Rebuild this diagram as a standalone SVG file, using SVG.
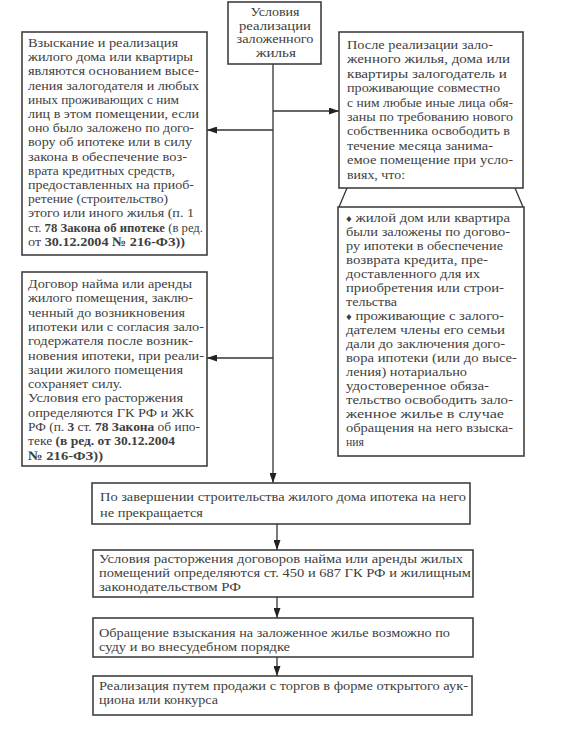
<svg xmlns="http://www.w3.org/2000/svg" width="569" height="732" viewBox="0 0 569 732" font-family="'Liberation Serif', 'Times New Roman', serif">
<style>
.box{fill:#fff;stroke:#404040;stroke-width:1.6}
.ln{fill:none;stroke:#333;stroke-width:1.3}
.t{font-family:'Liberation Serif','Times New Roman',serif;font-size:13px;fill:#404040}
.c{text-anchor:middle}
.b{font-weight:bold}
</style>
<defs>
<marker id="ah" markerUnits="userSpaceOnUse" markerWidth="10" markerHeight="7" refX="10" refY="3.5" orient="auto">
<path d="M0,0 L10,3.5 L0,7 z" fill="#222"/>
</marker>
</defs>
<rect width="569" height="732" fill="#fff"/>

<g id="connectors">
<path class="ln" d="M273,64 V483" marker-end="url(#ah)"/>
<path class="ln" d="M273,111 H339" marker-end="url(#ah)"/>
<path class="ln" d="M273,130 H207" marker-end="url(#ah)"/>
<path class="ln" d="M273,358 H207" marker-end="url(#ah)"/>
<path class="ln" d="M277,524 V550" marker-end="url(#ah)"/>
<path class="ln" d="M277,597 V618" marker-end="url(#ah)"/>
<path class="ln" d="M277,657 V676" marker-end="url(#ah)"/>
<path class="ln" d="M347,188 L339,207 M515,188 L523,207"/>
</g>

<g id="top">
<rect class="box" x="228" y="2" width="93" height="62"/>
<text class="t c" x="275" y="16" textLength="49" lengthAdjust="spacingAndGlyphs">Условия</text>
<text class="t c" x="275" y="29.5" textLength="72" lengthAdjust="spacingAndGlyphs">реализации</text>
<text class="t c" x="275" y="43" textLength="77" lengthAdjust="spacingAndGlyphs">заложенного</text>
<text class="t c" x="276" y="56.5" textLength="40" lengthAdjust="spacingAndGlyphs">жилья</text>
</g>

<g id="left1">
<rect class="box" x="22" y="32" width="185" height="223"/>
<text class="t" x="28" y="47" textLength="150" lengthAdjust="spacingAndGlyphs">Взыскание и реализация</text>
<text class="t" x="28" y="61.2" textLength="165" lengthAdjust="spacingAndGlyphs">жилого дома или квартиры</text>
<text class="t" x="28" y="75.4" textLength="171" lengthAdjust="spacingAndGlyphs">являются основанием высе-</text>
<text class="t" x="28" y="89.6" textLength="171" lengthAdjust="spacingAndGlyphs">ления залогодателя и любых</text>
<text class="t" x="28" y="103.8" textLength="151" lengthAdjust="spacingAndGlyphs">иных проживающих с ним</text>
<text class="t" x="28" y="118" textLength="171" lengthAdjust="spacingAndGlyphs">лиц в этом помещении, если</text>
<text class="t" x="28" y="132.2" textLength="166" lengthAdjust="spacingAndGlyphs">оно было заложено по дого-</text>
<text class="t" x="28" y="146.4" textLength="164" lengthAdjust="spacingAndGlyphs">вору об ипотеке или в силу</text>
<text class="t" x="28" y="160.6" textLength="159" lengthAdjust="spacingAndGlyphs">закона в обеспечение воз-</text>
<text class="t" x="28" y="174.8" textLength="147" lengthAdjust="spacingAndGlyphs">врата кредитных средств,</text>
<text class="t" x="28" y="189" textLength="166" lengthAdjust="spacingAndGlyphs">предоставленных на приоб-</text>
<text class="t" x="28" y="203.2" textLength="140" lengthAdjust="spacingAndGlyphs">ретение (строительство)</text>
<text class="t" x="28" y="217.4" textLength="166" lengthAdjust="spacingAndGlyphs">этого или иного жилья (п. 1</text>
<text class="t" x="28" y="231.6" textLength="175" lengthAdjust="spacingAndGlyphs">ст. <tspan class="b">78  Закона об ипотеке</tspan> (в ред.</text>
<text class="t" x="28" y="245.8" textLength="157" lengthAdjust="spacingAndGlyphs">от <tspan class="b">30.12.2004 № 216-ФЗ))</tspan></text>
</g>

<g id="right1">
<rect class="box" x="339" y="32" width="184" height="156"/>
<text class="t" x="347" y="49" textLength="146" lengthAdjust="spacingAndGlyphs">После  реализации зало-</text>
<text class="t" x="347" y="63.4" textLength="163" lengthAdjust="spacingAndGlyphs">женного жилья, дома или</text>
<text class="t" x="347" y="77.8" textLength="160" lengthAdjust="spacingAndGlyphs">квартиры  залогодатель и</text>
<text class="t" x="347" y="92.2" textLength="153" lengthAdjust="spacingAndGlyphs">проживающие  совместно</text>
<text class="t" x="347" y="106.6" textLength="166" lengthAdjust="spacingAndGlyphs">с ним любые иные лица обя-</text>
<text class="t" x="347" y="121" textLength="166" lengthAdjust="spacingAndGlyphs">заны по  требованию нового</text>
<text class="t" x="347" y="135.4" textLength="163" lengthAdjust="spacingAndGlyphs">собственника освободить в</text>
<text class="t" x="347" y="149.8" textLength="146" lengthAdjust="spacingAndGlyphs">течение  месяца занима-</text>
<text class="t" x="347" y="164.2" textLength="166" lengthAdjust="spacingAndGlyphs">емое помещение при усло-</text>
<text class="t" x="347" y="178.6" textLength="58" lengthAdjust="spacingAndGlyphs">виях, что:</text>
</g>

<g id="right2">
<rect class="box" x="338" y="207" width="186" height="249"/>
<text class="t" x="346" y="222" textLength="164" lengthAdjust="spacingAndGlyphs"><tspan font-size="10">♦</tspan> жилой дом или квартира</text>
<text class="t" x="346" y="236" textLength="164" lengthAdjust="spacingAndGlyphs">были заложены по догово-</text>
<text class="t" x="346" y="250" textLength="157" lengthAdjust="spacingAndGlyphs">ру ипотеки в обеспечение</text>
<text class="t" x="346" y="264" textLength="142" lengthAdjust="spacingAndGlyphs">возврата кредита,  пре-</text>
<text class="t" x="346" y="278" textLength="134" lengthAdjust="spacingAndGlyphs">доставленного  для их</text>
<text class="t" x="346" y="292" textLength="158" lengthAdjust="spacingAndGlyphs">приобретения или строи-</text>
<text class="t" x="346" y="306" textLength="51" lengthAdjust="spacingAndGlyphs">тельства</text>
<text class="t" x="346" y="320" textLength="158" lengthAdjust="spacingAndGlyphs"><tspan font-size="10">♦</tspan> проживающие  с залого-</text>
<text class="t" x="346" y="334" textLength="159" lengthAdjust="spacingAndGlyphs">дателем члены его  семьи</text>
<text class="t" x="346" y="348" textLength="159" lengthAdjust="spacingAndGlyphs">дали до  заключения дого-</text>
<text class="t" x="346" y="362" textLength="171" lengthAdjust="spacingAndGlyphs">вора ипотеки (или до  высе-</text>
<text class="t" x="346" y="376" textLength="121" lengthAdjust="spacingAndGlyphs">ления) нотариально</text>
<text class="t" x="346" y="390" textLength="143" lengthAdjust="spacingAndGlyphs">удостоверенное  обяза-</text>
<text class="t" x="346" y="404" textLength="167" lengthAdjust="spacingAndGlyphs">тельство  освободить зало-</text>
<text class="t" x="346" y="418" textLength="158" lengthAdjust="spacingAndGlyphs">женное  жилье  в случае</text>
<text class="t" x="346" y="432" textLength="167" lengthAdjust="spacingAndGlyphs">обращения на него  взыска-</text>
<text class="t" x="346" y="446" textLength="18" lengthAdjust="spacingAndGlyphs">ния</text>
</g>

<g id="left2">
<rect class="box" x="22" y="272" width="185" height="194"/>
<text class="t" x="28" y="288" textLength="164" lengthAdjust="spacingAndGlyphs">Договор найма или аренды</text>
<text class="t" x="28" y="302.3" textLength="165" lengthAdjust="spacingAndGlyphs">жилого помещения, заклю-</text>
<text class="t" x="28" y="316.6" textLength="157" lengthAdjust="spacingAndGlyphs">ченный до возникновения</text>
<text class="t" x="28" y="330.9" textLength="176" lengthAdjust="spacingAndGlyphs">ипотеки или с согласия зало-</text>
<text class="t" x="28" y="345.2" textLength="165" lengthAdjust="spacingAndGlyphs">годержателя после возник-</text>
<text class="t" x="28" y="359.5" textLength="176" lengthAdjust="spacingAndGlyphs">новения ипотеки, при реали-</text>
<text class="t" x="28" y="373.8" textLength="155" lengthAdjust="spacingAndGlyphs">зации жилого помещения</text>
<text class="t" x="28" y="388.1" textLength="94" lengthAdjust="spacingAndGlyphs">сохраняет силу.</text>
<text class="t" x="28" y="402.4" textLength="155" lengthAdjust="spacingAndGlyphs">Условия его расторжения</text>
<text class="t" x="28" y="416.7" textLength="166" lengthAdjust="spacingAndGlyphs">определяются ГК РФ и ЖК</text>
<text class="t" x="28" y="431" textLength="172" lengthAdjust="spacingAndGlyphs">РФ (п. <tspan class="b">3</tspan> ст. <tspan class="b">78 Закона</tspan> об ипо-</text>
<text class="t" x="28" y="445.3" textLength="147" lengthAdjust="spacingAndGlyphs">теке <tspan class="b">(в ред. от 30.12.2004</tspan></text>
<text class="t b" x="28" y="459.6" textLength="75" lengthAdjust="spacingAndGlyphs">№ 216-ФЗ))</text>
</g>

<g id="box3">
<rect class="box" x="92" y="483" width="378" height="41"/>
<text class="t" x="100" y="501" textLength="366" lengthAdjust="spacingAndGlyphs">По завершении строительства жилого дома ипотека на него</text>
<text class="t" x="100" y="517" textLength="103" lengthAdjust="spacingAndGlyphs">не прекращается</text>
</g>

<g id="box4">
<rect class="box" x="93" y="550" width="380" height="47"/>
<text class="t" x="99" y="563" textLength="364" lengthAdjust="spacingAndGlyphs">Условия расторжения договоров найма или аренды жилых</text>
<text class="t" x="99" y="577" textLength="372" lengthAdjust="spacingAndGlyphs">помещений определяются ст. 450 и 687 ГК РФ и жилищным</text>
<text class="t" x="99" y="591" textLength="142" lengthAdjust="spacingAndGlyphs">законодательством РФ</text>
</g>

<g id="box5">
<rect class="box" x="93" y="618" width="380" height="39"/>
<text class="t" x="99" y="637" textLength="351" lengthAdjust="spacingAndGlyphs">Обращение взыскания на заложенное жилье возможно по</text>
<text class="t" x="99" y="651" textLength="191" lengthAdjust="spacingAndGlyphs">суду и во  внесудебном порядке</text>
</g>

<g id="box6">
<rect class="box" x="93" y="676" width="379" height="39"/>
<text class="t" x="99" y="690" textLength="369" lengthAdjust="spacingAndGlyphs">Реализация путем продажи с торгов в форме открытого аук-</text>
<text class="t" x="99" y="704" textLength="119" lengthAdjust="spacingAndGlyphs">циона или конкурса</text>
</g>
</svg>
